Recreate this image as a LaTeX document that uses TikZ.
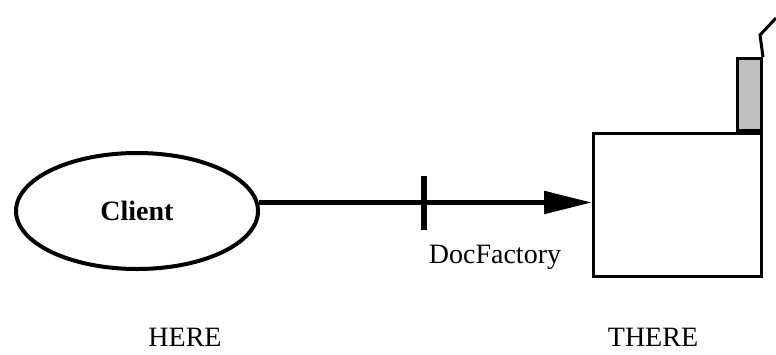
\documentclass[tikz,border=0pt]{standalone}
\usepackage{fontspec}
\setmainfont{Liberation Serif}
\usetikzlibrary{shapes.geometric,arrows.meta}
\begin{document}
\begin{tikzpicture}[x=0.5pt,y=-0.5pt,
  lbl/.style={font=\fontsize{14}{16}\selectfont, inner sep=0pt},
  ovalline/.style={line width=2pt},
  wire/.style={line width=2.7pt},
  boxline/.style={line width=1.5pt}]
\useasboundingbox (0,0) rectangle (776,354);
% client ellipse
\node[draw, ovalline, ellipse, minimum width=121pt, minimum height=58pt, inner sep=0pt,
      font=\fontsize{14}{16}\selectfont\bfseries] (client) at (137,211) {Client};
% remote side: box with a raised tab and an antenna line
\node[draw, boxline, rectangle, minimum width=84pt, minimum height=71.5pt, inner sep=0pt,
      anchor=north west] (there) at (592,132) {};
\node[draw, boxline, fill={rgb,255:red,192;green,192;blue,192}, rectangle,
      minimum width=12pt, minimum height=36pt, inner sep=0pt, anchor=south east]
      (tab) at (there.north east) {};
\coordinate (tip) at (tab.north east);
\coordinate (mast) at (760,35);
\coordinate (mastend) at (776,18);
\draw[boxline] (tip) -- (mast) -- (mastend);
% connector with interface tick
\coordinate (start) at (client.4);
\draw[wire, -{Triangle[length=24pt,width=11pt]}] (start) -- (start -| there.west);
\coordinate (tickc) at (424,203);
\draw[wire] ([yshift=13.5pt]tickc) -- ([yshift=-13.5pt]tickc);
\node[lbl] (iface) at (495,257) {DocFactory};
% location labels
\node[lbl] (here) at (185,337) {HERE};
\node[lbl] (herethere) at (653,337) {THERE};
\end{tikzpicture}
\end{document}
